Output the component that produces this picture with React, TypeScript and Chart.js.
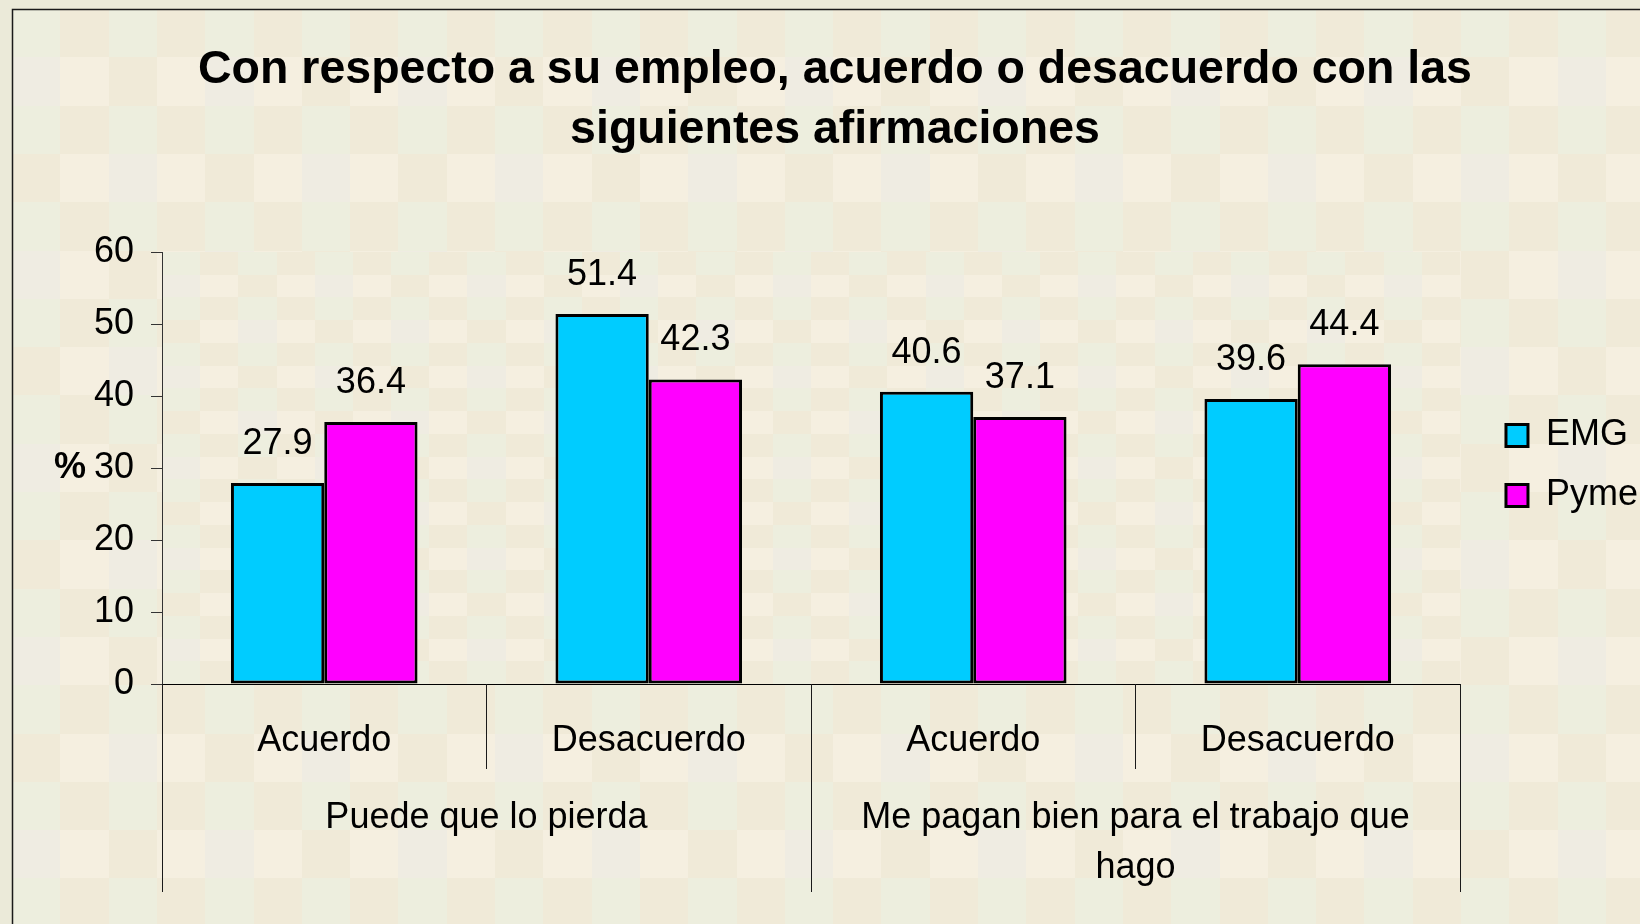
import React, { useEffect, useRef } from 'react';
import { Chart, registerables } from 'chart.js';

Chart.register(...registerables);

// ---- data ----
const TITLE_LINES = ['Con respecto a su empleo, acuerdo o desacuerdo con las', 'siguientes afirmaciones'];
const CATEGORIES = ['Acuerdo', 'Desacuerdo', 'Acuerdo', 'Desacuerdo'];
const CATEGORY_GROUP = [0, 0, 1, 1];
const GROUPS = [['Puede que lo pierda'], ['Me pagan bien para el trabajo que', 'hago']];
const SERIES_NAMES = ['EMG', 'Pyme'];
const EMG_VALUES = [27.9, 51.4, 40.6, 39.6];
const PYME_VALUES = [36.4, 42.3, 37.1, 44.4];
const Y_MIN = 0;
const Y_MAX = 60;
const Y_STEP = 10;
const Y_UNIT = '%';
const Y_UNIT_AT = 30;

// ---- styles ----
const FONT = "'Liberation Sans', Arial, sans-serif";
const COLORS = ['#00CCFF', '#FF00FF'];
const OUTSIDE = '#EBEAD9';
const TEX = { g: '#EDEEDE', b: '#F0EAD8', c: '#F5EFE0', y: '#EFECE2' };

function texColor(r: number, c: number): string {
  if (r % 2 === 0) return c % 2 === 0 ? TEX.g : TEX.b;
  if (c % 2 === 1) return TEX.c;
  return ((c / 2 + (r - 1) / 2) % 2 === 0) ? TEX.y : TEX.b;
}

function fillChecker(ctx: CanvasRenderingContext2D, x0: number, y0: number, x1: number, y1: number, cw: number, ch: number) {
  const cols = Math.ceil((x1 - x0) / cw);
  const rows = Math.ceil((y1 - y0) / ch);
  for (let r = 0; r < rows; r++) {
    for (let c = 0; c < cols; c++) {
      const xa = Math.round(x0 + c * cw);
      const ya = Math.round(y0 + r * ch);
      const xb = Math.min(x1, Math.round(x0 + (c + 1) * cw));
      const yb = Math.min(y1, Math.round(y0 + (r + 1) * ch));
      ctx.fillStyle = texColor(r, c);
      ctx.fillRect(xa, ya, xb - xa, yb - ya);
    }
  }
}

const backgroundPlugin = {
  id: 'texturedBackground',
  beforeDraw(chart: any) {
    const { ctx, width, height, chartArea } = chart;
    ctx.save();
    ctx.fillStyle = OUTSIDE;
    ctx.fillRect(0, 0, width, height);
    const fx = 12, fy = 9;
    fillChecker(ctx, fx, fy, width, height, 48.3, 48.3);
    // finer texture in plot area
    fillChecker(ctx, chartArea.left, chartArea.top, chartArea.right, chartArea.bottom,
      (chartArea.right - chartArea.left) / 34, (chartArea.bottom - chartArea.top) / 19);
    // frame
    ctx.strokeStyle = '#1a1a1a';
    ctx.lineWidth = 1.5;
    ctx.beginPath();
    ctx.moveTo(fx + 0.5, height);
    ctx.lineTo(fx + 0.5, fy + 0.5);
    ctx.lineTo(width, fy + 0.5);
    ctx.stroke();
    ctx.restore();
  },
};

const legendShiftPlugin = {
  id: 'legendShift',
  afterLayout(chart: any) {
    if (chart.legend) {
      chart.legend.left += 22;
      chart.legend.right += 22;
      chart.legend.top += 21;
      chart.legend.bottom += 21;
    }
  },
};

const decorPlugin = {
  id: 'decor',
  afterDatasetsDraw(chart: any) {
    const { ctx } = chart;
    ctx.save();
    ctx.font = `36px ${FONT}`;
    ctx.fillStyle = '#000';
    ctx.textAlign = 'center';
    ctx.textBaseline = 'middle';
    chart.data.datasets.forEach((ds: any, di: number) => {
      const meta = chart.getDatasetMeta(di);
      meta.data.forEach((bar: any, i: number) => {
        ctx.fillText(Number(ds.data[i]).toFixed(1), bar.x, bar.y - 39);
      });
    });
    ctx.restore();
  },
  afterDraw(chart: any) {
    const { ctx } = chart;
    const xs = chart.scales.x;
    const ys = chart.scales.y;
    ctx.save();
    // category separators
    ctx.strokeStyle = '#1a1a1a';
    ctx.lineWidth = 1;
    const n = CATEGORIES.length;
    for (let i = 0; i <= n; i++) {
      const px = Math.round(xs.getPixelForValue(i - 0.5)) + 0.5;
      const groupEdge = i === 0 || i === n || CATEGORY_GROUP[i] !== CATEGORY_GROUP[i - 1];
      const len = groupEdge ? 208 : 85;
      ctx.beginPath();
      ctx.moveTo(px, xs.top);
      ctx.lineTo(px, xs.top + len);
      ctx.stroke();
    }
    // unit label
    ctx.font = `bold 36px ${FONT}`;
    ctx.fillStyle = '#000';
    ctx.textAlign = 'right';
    ctx.textBaseline = 'middle';
    ctx.fillText(Y_UNIT, ys.right - 76, ys.getPixelForValue(Y_UNIT_AT));
    ctx.restore();
  },
};

export default function App() {
  const ref = useRef<HTMLCanvasElement | null>(null);

  useEffect(() => {
    if (!ref.current) return;
    const chart = new Chart(ref.current, {
      type: 'bar',
      data: {
        labels: CATEGORIES,
        datasets: [
          {
            label: SERIES_NAMES[0],
            data: EMG_VALUES,
            backgroundColor: COLORS[0],
            borderColor: '#000',
            borderWidth: 3,
            borderSkipped: false,
            categoryPercentage: 0.575,
            barPercentage: 1,
          },
          {
            label: SERIES_NAMES[1],
            data: PYME_VALUES,
            backgroundColor: COLORS[1],
            borderColor: '#000',
            borderWidth: 3,
            borderSkipped: false,
            categoryPercentage: 0.575,
            barPercentage: 1,
          },
        ],
      },
      options: {
        responsive: false,
        animation: false,
        events: [],
        layout: { padding: { left: 44, right: 14, top: 0, bottom: 35 } },
        plugins: {
          title: {
            display: true,
            text: TITLE_LINES,
            color: '#000',
            font: { family: FONT, size: 46.5, weight: 'bold', lineHeight: 60 / 46.5 },
            padding: { top: 40, bottom: 92 },
          },
          legend: {
            display: true,
            position: 'right',
            align: 'center',
            labels: {
              boxWidth: 22,
              boxHeight: 22,
              padding: 24,
              color: '#000',
              font: { family: FONT, size: 36 },
            },
          },
          tooltip: { enabled: false },
        },
        scales: {
          x: {
            type: 'category',
            position: 'bottom',
            offset: true,
            grid: { display: false },
            border: { display: true, color: '#000', width: 1 },
            ticks: {
              color: '#000',
              font: { family: FONT, size: 36, lineHeight: 1.2 },
              padding: 27,
              maxRotation: 0,
              autoSkip: false,
            },
            afterFit: (s: any) => { s.height = 74; },
          },
          x2: {
            type: 'category',
            position: 'bottom',
            labels: GROUPS as any,
            offset: true,
            grid: { display: false },
            border: { display: false },
            ticks: {
              color: '#000',
              font: { family: FONT, size: 36, lineHeight: 50 / 36 },
              padding: 27,
              maxRotation: 0,
              autoSkip: false,
            },
            afterFit: (s: any) => { s.height = 131; },
          },
          y: {
            min: Y_MIN,
            max: Y_MAX,
            position: 'left',
            grid: { drawOnChartArea: false, drawTicks: true, tickLength: 11, color: '#333', lineWidth: 1 },
            border: { display: true, color: '#333', width: 1 },
            ticks: {
              stepSize: Y_STEP,
              color: '#000',
              font: { family: FONT, size: 36 },
              padding: 17,
            },
            afterFit: (s: any) => { s.width = 118; },
          },
        },
      } as any,
      plugins: [backgroundPlugin, legendShiftPlugin, decorPlugin],
    });
    return () => chart.destroy();
  }, []);

  return (
    <div style={{ position: 'fixed', left: 0, top: 0, width: 1640, height: 924, overflow: 'hidden' }}>
      <canvas ref={ref} width={1640} height={924} style={{ display: 'block' }} />
    </div>
  );
}
